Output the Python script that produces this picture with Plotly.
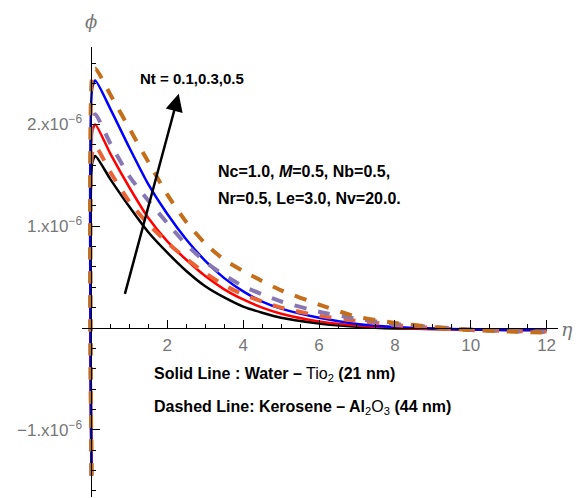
import plotly.graph_objects as go

# eta grid and phi values (units of 1e-6)
eta = [0, 0.02, 0.1, 0.5, 1.0, 1.5, 2.0, 2.5, 3.0, 3.5, 4.0, 4.5, 5, 6, 7, 8, 9, 10, 11, 12]

solid_nt01 = [-1.45, 1.62, 1.69, 1.46, 1.19, 0.94, 0.74, 0.56, 0.41, 0.30, 0.21, 0.15, 0.10, 0.045, 0.012, -0.005, -0.01, -0.015, -0.02, -0.02]
solid_nt03 = [-1.45, 1.93, 2.00, 1.71, 1.38, 1.08, 0.85, 0.67, 0.51, 0.38, 0.28, 0.20, 0.14, 0.065, 0.025, 0.0, -0.01, -0.015, -0.02, -0.02]
solid_nt05 = [-1.45, 2.36, 2.43, 2.15, 1.77, 1.41, 1.12, 0.87, 0.66, 0.49, 0.36, 0.26, 0.19, 0.10, 0.04, 0.01, -0.005, -0.015, -0.02, -0.02]
dash_nt01 = [-1.45, 1.72, 1.79, 1.53, 1.24, 1.02, 0.84, 0.68, 0.54, 0.42, 0.33, 0.26, 0.20, 0.12, 0.07, 0.03, 0.0, -0.02, -0.03, -0.035]
dash_nt03 = [-1.45, 2.03, 2.10, 1.81, 1.49, 1.25, 1.03, 0.82, 0.65, 0.52, 0.41, 0.33, 0.26, 0.16, 0.09, 0.04, 0.01, -0.015, -0.03, -0.04]
dash_nt05 = [-1.45, 2.48, 2.55, 2.29, 1.96, 1.63, 1.31, 1.04, 0.83, 0.67, 0.56, 0.46, 0.37, 0.23, 0.11, 0.05, 0.01, -0.02, -0.035, -0.045]

x_ticks = [2, 4, 6, 8, 10, 12]
y_tickvals = [-1, 1, 2]
y_ticktext = ["−1.x10<sup>−6</sup>", "1.x10<sup>−6</sup>", "2.x10<sup>−6</sup>"]

SCALE = 1e-6
xr = [-0.25, 12.3]
yr = [-1.66e-6, 2.76e-6]

# page offset of the figure (browser body margin)
OFF = 8
L, R, T, B = 82, 23, 47, 1

fig = go.Figure()
series = [
    (solid_nt01, "black", "solid", 2.5),
    (solid_nt03, "#ff0000", "solid", 2.5),
    (solid_nt05, "#0000ff", "solid", 2.5),
    (dash_nt01, "#EB6235", "dash", 4),
    (dash_nt03, "#8778B3", "dash", 4),
    (dash_nt05, "#C56E1A", "dash", 4),
]
for ys, col, dash, w in series:
    fig.add_trace(go.Scatter(
        x=eta, y=[v * SCALE for v in ys], mode="lines",
        line=dict(color=col, width=w, dash=dash, shape="spline", smoothing=0.6),
        showlegend=False, hoverinfo="skip"))

xpos = (0 - yr[0]) / (yr[1] - yr[0])
ypos = (0 - xr[0]) / (xr[1] - xr[0])

tickfont = dict(family="Arial, Liberation Sans", size=17, color="#777777")
fig.update_layout(
    width=581, height=498,
    margin=dict(l=L - OFF, r=R + OFF, t=T - OFF, b=B + OFF),
    plot_bgcolor="white", paper_bgcolor="white",
    xaxis=dict(range=xr, anchor="free", position=xpos, showgrid=False, zeroline=False,
               showline=True, linecolor="black", linewidth=1,
               tickvals=x_ticks, ticks="inside", ticklen=8, tickcolor="black",
               tickfont=tickfont, ticklabelstandoff=2,
               minor=dict(dtick=0.5, tick0=0, ticks="inside", ticklen=4, tickcolor="black"),
               automargin=False),
    yaxis=dict(range=yr, anchor="free", position=ypos, showgrid=False, zeroline=False,
               showline=True, linecolor="black", linewidth=1,
               tickvals=[v * SCALE for v in y_tickvals], ticktext=y_ticktext,
               ticks="inside", ticklen=8, tickcolor="black", ticklabelstandoff=6,
               tickfont=tickfont,
               minor=dict(dtick=0.2e-6, tick0=0, ticks="inside", ticklen=4, tickcolor="black"),
               automargin=False),
)

# arrow
fig.add_annotation(x=2.30, y=2.30e-6, ax=0.87, ay=0.32e-6, xref="x", yref="y",
                   axref="x", ayref="y", showarrow=True, arrowhead=2, arrowsize=1.4,
                   arrowwidth=2.5, arrowcolor="black", text="")

PW = 581 - L - R
PH = 498 - T - B

def px_to_paper(px, py):
    return (px - L) / PW, (498 - B - py) / PH

def add_text(txt, px, py, size, xanchor="left", family="Arial, Liberation Sans", color="black"):
    x, y = px_to_paper(px, py)
    fig.add_annotation(x=x, y=y, xref="paper", yref="paper", text=txt, showarrow=False,
                       xanchor=xanchor, yanchor="middle",
                       font=dict(family=family, size=size, color=color))

add_text("<b>Nt = 0.1,0.3,0.5</b>", 138, 78, 15)
add_text("<b>Nc=1.0, <i>M</i>=0.5, Nb=0.5,</b>", 216, 171, 16)
add_text("<b>Nr=0.5, Le=3.0, Nv=20.0.</b>", 216, 198, 16)
add_text("<b>Solid Line : Water –</b> Tio<sub>2</sub> <b>(21 nm)</b>", 152, 374, 16)
add_text("<b>Dashed Line: Kerosene – Al</b><sub>2</sub>O<sub>3</sub> <b>(44 nm)</b>", 152, 407, 16)

# axis labels
add_text("<i>ϕ</i>", 91, 21, 18, xanchor="center", family="DejaVu Serif, Liberation Serif", color="#777777")
add_text("<i>η</i>", 567, 329, 19, xanchor="center", family="DejaVu Serif, Liberation Serif", color="#777777")

fig.write_html("out.html")
